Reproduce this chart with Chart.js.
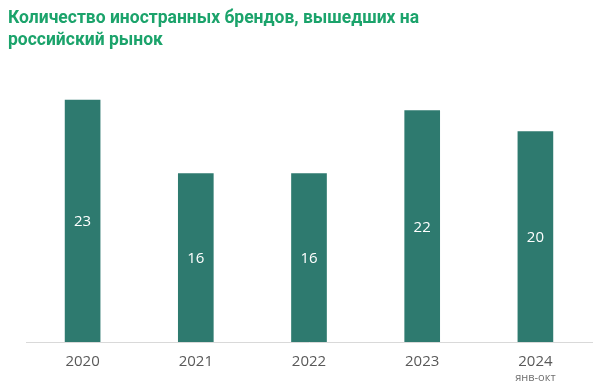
<!DOCTYPE html>
<html>
<head>
<meta charset="utf-8">
<script src="https://cdn.jsdelivr.net/npm/chart.js@4"></script>
<style>
  body { margin: 0; background: #fff; }
  #wrap { position: relative; width: 615px; height: 388px; }
  #title {
    position: absolute; left: 8px; top: 6px;
    font: bold 17.5px Roboto, sans-serif; line-height: 22px;
    color: #1ba36b;
  }
</style>
</head>
<body>
<div id="wrap">
  <canvas id="brandsChart" width="615" height="388"></canvas>
  <div id="title">Количество иностранных брендов, вышедших на<br>российский рынок</div>
</div>
<script>
// данные графика
const years = ['2020', '2021', '2022', '2023', '2024'];
const brandCounts = [23, 16, 16, 22, 20];
const subLabels = ['', '', '', '', 'янв-окт'];

// подписи значений внутри столбцов и подпись под 2024
const barLabels = {
  id: 'barLabels',
  afterDatasetsDraw(chart) {
    const ctx = chart.ctx;
    const meta = chart.getDatasetMeta(0);
    ctx.save();
    ctx.textAlign = 'center';
    ctx.textBaseline = 'middle';
    meta.data.forEach((bar, i) => {
      ctx.fillStyle = '#ffffff';
      ctx.font = '15px "Open Sans"';
      ctx.fillText(String(brandCounts[i]), bar.x, (bar.y + bar.base) / 2 + 1);
      if (subLabels[i]) {
        ctx.fillStyle = '#6f6f6f';
        ctx.font = '11px "Open Sans"';
        ctx.fillText(subLabels[i], bar.x, 378);
      }
    });
    ctx.restore();
  }
};

new Chart(document.getElementById('brandsChart'), {
  type: 'bar',
  data: {
    labels: years,
    datasets: [{
      data: brandCounts,
      backgroundColor: '#2e7a6f',
      barThickness: 35
    }]
  },
  options: {
    responsive: false,
    animation: false,
    layout: { padding: { left: 26, right: 23, top: 79, bottom: 14 } },
    plugins: {
      legend: { display: false },
      tooltip: { enabled: false }
    },
    scales: {
      x: {
        grid: { display: false },
        border: { display: true, color: '#d9d9d9' },
        ticks: { color: '#595959', font: { family: '"Open Sans"', size: 15 }, padding: 3 }
      },
      y: {
        display: false,
        min: 0,
        max: 25
      }
    }
  },
  plugins: [barLabels]
});
</script>
</body>
</html>
